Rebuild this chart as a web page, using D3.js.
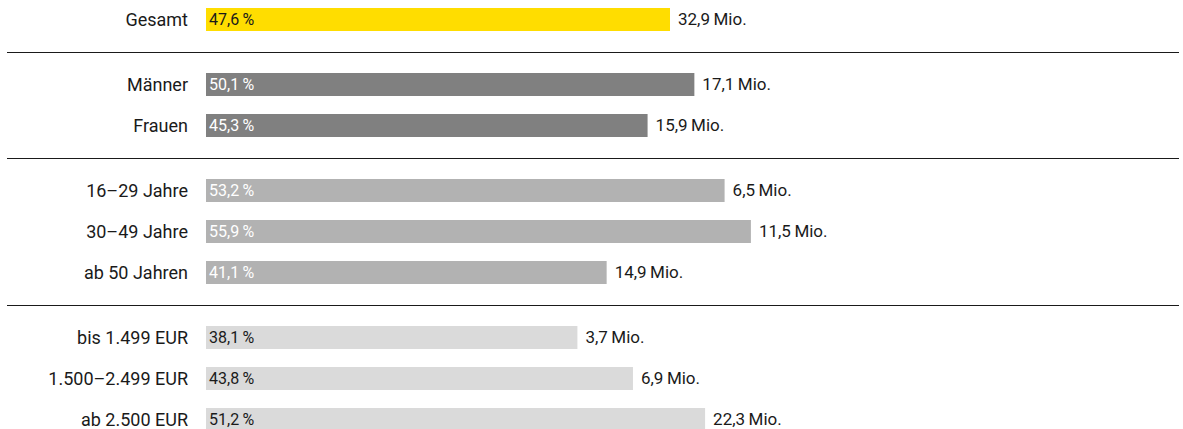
<!DOCTYPE html>
<html lang="de">
<head>
<meta charset="utf-8">
<script src="https://cdn.jsdelivr.net/npm/d3@7"></script>
<style>
  html, body { margin: 0; padding: 0; background: #fff; }
  svg { display: block; font-family: Roboto, "Liberation Sans", Arial, sans-serif; }
</style>
</head>
<body>
<svg id="chart" width="1183" height="429"></svg>
<script>
// Row labels, share in percent, absolute count in millions, and group membership
const categories = ["Gesamt", "Männer", "Frauen", "16–29 Jahre", "30–49 Jahre", "ab 50 Jahren",
                    "bis 1.499 EUR", "1.500–2.499 EUR", "ab 2.500 EUR"];
const shares = [47.6, 50.1, 45.3, 53.2, 55.9, 41.1, 38.1, 43.8, 51.2];
const millions = [32.9, 17.1, 15.9, 6.5, 11.5, 14.9, 3.7, 6.9, 22.3];
const groups = [0, 1, 1, 2, 2, 2, 3, 3, 3];

const groupFill = ["#ffdd00", "#808080", "#b2b2b2", "#dadada"];
const groupText = ["#1a1a1a", "#ffffff", "#ffffff", "#1a1a1a"];

const fmt = v => d3.format(".1f")(v).replace(".", ",");

const svg = d3.select("#chart");

const barLeft = 206;
const x = d3.scaleLinear().domain([0, 47.6]).range([barLeft, 670]);

// Row slot: index plus extra spacing for each group break
const groupGap = 24 / 41;
const slot = (i) => i + groups[i] * groupGap;
const y = d3.scaleLinear().domain([0, 1]).range([19.5, 60.5]);
const barH = 23;

const rows = categories.map((c, i) => ({
  cat: c, share: shares[i], mio: millions[i], g: groups[i], cy: y(slot(i))
}));

// Separator lines between groups
const seps = [];
for (let i = 1; i < rows.length; i++) {
  if (rows[i].g !== rows[i - 1].g) seps.push((rows[i].cy + rows[i - 1].cy) / 2);
}
svg.selectAll("line.sep").data(seps).join("line")
  .attr("class", "sep")
  .attr("x1", 7).attr("x2", 1179)
  .attr("y1", d => Math.round(d) + 0.5).attr("y2", d => Math.round(d) + 0.5)
  .attr("stroke", "#1a1a1a").attr("stroke-width", 1.2);

const row = svg.selectAll("g.row").data(rows).join("g").attr("class", "row");

row.append("rect")
  .attr("x", x(0))
  .attr("y", d => d.cy - barH / 2)
  .attr("width", d => x(d.share) - x(0))
  .attr("height", barH)
  .attr("fill", d => groupFill[d.g]);

row.append("text")
  .attr("x", 188)
  .attr("y", d => d.cy)
  .attr("dy", "0.34em")
  .attr("text-anchor", "end")
  .attr("font-size", 18)
  .attr("fill", "#1a1a1a")
  .text(d => d.cat);

row.append("text")
  .attr("x", x(0) + 3)
  .attr("y", d => d.cy)
  .attr("dy", "0.35em")
  .attr("font-size", 16)
  .attr("fill", d => groupText[d.g])
  .text(d => fmt(d.share) + "\u2009%");

row.append("text")
  .attr("x", d => x(d.share) + 8)
  .attr("y", d => d.cy)
  .attr("dy", "0.35em")
  .attr("font-size", 17)
  .attr("fill", "#1a1a1a")
  .text(d => fmt(d.mio) + "\u2009Mio.");
</script>
</body>
</html>
